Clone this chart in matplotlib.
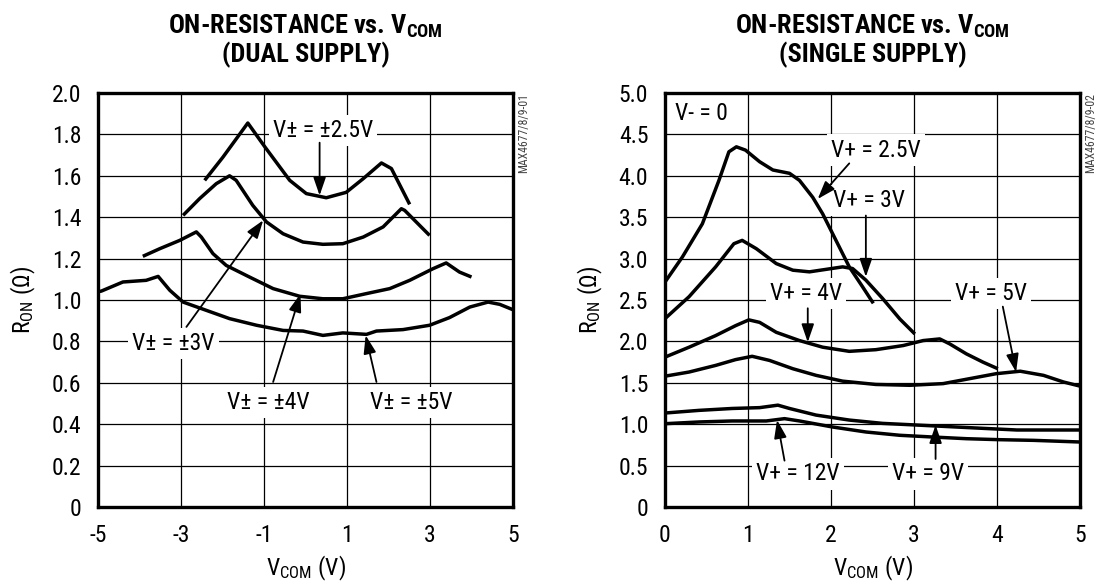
import matplotlib
matplotlib.use("Agg")
import matplotlib.pyplot as plt
from matplotlib import font_manager as fm

names = {f.name for f in fm.fontManager.ttflist}


def pick(cands, default="DejaVu Sans"):
    for c in cands:
        if c in names:
            return c
    return default


FONT = pick(["Roboto Condensed", "Archivo Narrow", "PT Sans Narrow", "Liberation Sans Narrow",
             "IBM Plex Sans Condensed"])
TFONT = pick(["Roboto Condensed", "Archivo Narrow", "Barlow Condensed", "IBM Plex Sans Condensed"])
plt.rcParams['font.family'] = [FONT, 'DejaVu Sans']
plt.rcParams['mathtext.fontset'] = 'custom'
plt.rcParams['mathtext.rm'] = FONT
plt.rcParams['mathtext.it'] = FONT
plt.rcParams['mathtext.bf'] = TFONT + ':black'

# ---------------- data: dual supply ----------------
d25_x = [-2.43, -1.99, -1.59, -1.39, -0.98, -0.38, 0.02, 0.50, 0.98, 1.39, 1.83, 2.07, 2.51]
d25_y = [1.578, 1.69, 1.80, 1.855, 1.74, 1.578, 1.514, 1.494, 1.52, 1.586, 1.662, 1.635, 1.462]

d3_x = [-2.95, -2.55, -2.15, -1.83, -1.67, -1.27, -0.94, -0.54, -0.06, 0.42, 0.90, 1.39, 1.87, 2.31, 2.39, 2.99]
d3_y = [1.409, 1.49, 1.562, 1.60, 1.578, 1.457, 1.377, 1.32, 1.28, 1.269, 1.272, 1.304, 1.353, 1.441, 1.433, 1.312]

d4_x = [-3.92, -3.51, -3.03, -2.63, -2.51, -2.23, -1.91, -1.35, -0.78, -0.14, 0.42, 0.90, 1.47, 2.03, 2.51, 3.07, 3.39, 3.71, 4.00]
d4_y = [1.211, 1.248, 1.288, 1.329, 1.304, 1.224, 1.167, 1.111, 1.055, 1.018, 1.006, 1.006, 1.031, 1.055, 1.095, 1.151, 1.179, 1.135, 1.111]

d5_x = [-5.0, -4.92, -4.40, -3.84, -3.55, -3.27, -2.95, -2.39, -1.83, -1.18, -0.54, -0.06, 0.42, 0.90, 1.47, 1.71, 2.35, 2.99, 3.47, 3.96, 4.40, 4.68, 5.0]
d5_y = [1.04, 1.043, 1.087, 1.095, 1.114, 1.047, 0.99, 0.95, 0.91, 0.878, 0.853, 0.850, 0.829, 0.841, 0.834, 0.850, 0.857, 0.878, 0.915, 0.966, 0.99, 0.979, 0.953]

dual_series = [(d25_x, d25_y), (d3_x, d3_y), (d4_x, d4_y), (d5_x, d5_y)]

# ---------------- data: single supply ----------------
s25_x = [0.0, 0.21, 0.45, 0.65, 0.77, 0.86, 0.97, 1.14, 1.30, 1.50, 1.62, 1.78, 1.90, 2.06, 2.22, 2.38, 2.51]
s25_y = [2.717, 3.02, 3.42, 3.945, 4.29, 4.35, 4.31, 4.17, 4.07, 4.03, 3.945, 3.74, 3.54, 3.22, 2.90, 2.66, 2.46]

s3_x = [0.0, 0.29, 0.61, 0.83, 0.93, 1.10, 1.34, 1.54, 1.74, 1.94, 2.14, 2.26, 2.42, 2.62, 2.83, 3.01]
s3_y = [2.275, 2.54, 2.90, 3.18, 3.22, 3.12, 2.94, 2.86, 2.84, 2.87, 2.90, 2.88, 2.74, 2.52, 2.27, 2.09]

s4_x = [0.0, 0.29, 0.61, 0.85, 1.01, 1.14, 1.34, 1.62, 1.90, 2.22, 2.54, 2.87, 3.11, 3.31, 3.43, 3.63, 3.83, 4.01]
s4_y = [1.81, 1.93, 2.07, 2.19, 2.26, 2.23, 2.11, 2.01, 1.93, 1.88, 1.90, 1.95, 2.01, 2.03, 1.97, 1.85, 1.75, 1.67]

s5_x = [0.0, 0.29, 0.61, 0.85, 1.05, 1.26, 1.54, 1.82, 2.14, 2.54, 2.95, 3.35, 3.67, 3.99, 4.28, 4.56, 4.80, 5.0]
s5_y = [1.58, 1.63, 1.71, 1.78, 1.82, 1.77, 1.67, 1.59, 1.52, 1.48, 1.47, 1.49, 1.55, 1.61, 1.64, 1.59, 1.51, 1.46]

s9_x = [0.0, 0.41, 0.81, 1.14, 1.36, 1.50, 1.82, 2.22, 2.62, 3.03, 3.43, 3.83, 4.24, 5.0]
s9_y = [1.135, 1.167, 1.19, 1.20, 1.23, 1.19, 1.11, 1.05, 1.01, 0.99, 0.97, 0.95, 0.93, 0.93]

s12_x = [0.0, 0.41, 0.81, 1.22, 1.44, 1.62, 2.02, 2.42, 2.83, 3.23, 3.63, 4.03, 4.44, 5.0]
s12_y = [1.006, 1.027, 1.039, 1.039, 1.067, 1.039, 0.966, 0.906, 0.866, 0.845, 0.825, 0.813, 0.805, 0.785]

single_series = [(s25_x, s25_y), (s3_x, s3_y), (s4_x, s4_y), (s5_x, s5_y), (s9_x, s9_y), (s12_x, s12_y)]

dual_xticks = [-5, -3, -1, 1, 3, 5]
dual_yticks = [0, 0.2, 0.4, 0.6, 0.8, 1.0, 1.2, 1.4, 1.6, 1.8, 2.0]
single_xticks = [0, 1, 2, 3, 4, 5]
single_yticks = [0, 0.5, 1.0, 1.5, 2.0, 2.5, 3.0, 3.5, 4.0, 4.5, 5.0]

# labels: (text, text_xy, arrow_from, arrow_to)
dual_labels = [
    ("V± = ±2.5V", (0.42, 1.82), (0.34, 1.76), (0.34, 1.505)),
    ("V± = ±3V", (-3.19, 0.79), (-2.87, 0.87), (-1.02, 1.385)),
    ("V± = ±4V", (-0.90, 0.505), (-0.78, 0.604), (-0.12, 1.03)),
    ("V± = ±5V", (2.55, 0.505), (1.71, 0.604), (1.45, 0.829)),
]
single_labels = [
    ("V+ = 2.5V", (2.54, 4.31), (2.22, 4.15), (1.84, 3.72)),
    ("V+ = 3V", (2.46, 3.70), (2.42, 3.52), (2.42, 2.78)),
    ("V+ = 4V", (1.70, 2.58), (1.72, 2.40), (1.72, 1.99)),
    ("V+ = 5V", (3.93, 2.58), (4.07, 2.42), (4.23, 1.63)),
    ("V+ = 12V", (1.60, 0.40), (1.44, 0.56), (1.35, 1.05)),
    ("V+ = 9V", (3.17, 0.40), (3.26, 0.58), (3.26, 0.99)),
]

FS = 17

fig = plt.figure(figsize=(10.95, 5.81), dpi=100)
ax1 = fig.add_axes([98 / 1095, 74 / 581, 415 / 1095, 414 / 581])
ax2 = fig.add_axes([665 / 1095, 74 / 581, 415 / 1095, 414 / 581])


def style(ax, xlim, ylim, xt, yt, title, code):
    ax.set_xlim(*xlim)
    ax.set_ylim(*ylim)
    ax.set_xticks(xt)
    ax.set_xticklabels([str(v) for v in xt])
    ax.set_yticks(yt)
    ax.set_yticklabels(["0"] + ["{:.1f}".format(v) for v in yt[1:]])
    ax.grid(True, color='black', lw=0.9)
    ax.set_axisbelow(True)
    ax.tick_params(length=0, labelsize=FS, pad=12)
    for s in ax.spines.values():
        s.set_linewidth(2.4)
    ax.set_xlabel(r'V$_{\mathrm{COM}}$ (V)', fontsize=FS, labelpad=5)
    ax.set_ylabel(r'R$_{\mathrm{ON}}$ ($\Omega$)', fontsize=FS, labelpad=10)
    ax.set_title(title, fontsize=19, fontweight='black', family=[TFONT, 'DejaVu Sans'],
                 pad=22, linespacing=1.1)
    ax.text(1.025, 1.0, code, transform=ax.transAxes, rotation=90, ha='center', va='top',
            fontsize=8.5, color='#444444')


style(ax1, (-5, 5), (0, 2.0), dual_xticks, dual_yticks,
      r'ON-RESISTANCE vs. $\mathbf{V_{COM}}$' + '\n(DUAL SUPPLY)', "MAX4677/8/9-01")
style(ax2, (0, 5), (0, 5.0), single_xticks, single_yticks,
      r'ON-RESISTANCE vs. $\mathbf{V_{COM}}$' + '\n(SINGLE SUPPLY)', "MAX4677/8/9-02")

for x, y in dual_series:
    ax1.plot(x, y, color='black', lw=2.5, solid_capstyle='butt', solid_joinstyle='round', zorder=3)
for x, y in single_series:
    ax2.plot(x, y, color='black', lw=2.5, solid_capstyle='butt', solid_joinstyle='round', zorder=3)


def label(ax, items):
    for txt, pos, a0, a1 in items:
        ax.text(pos[0], pos[1], txt, fontsize=FS, ha='center', va='center', zorder=4,
                bbox=dict(fc='white', ec='none', pad=3))
        ax.annotate('', xy=a1, xytext=a0, zorder=5,
                    arrowprops=dict(arrowstyle='-|>,head_length=1.1,head_width=0.38',
                                    color='black', lw=1.3, shrinkA=0, shrinkB=0))


label(ax1, dual_labels)
label(ax2, single_labels)
ax2.text(0.12, 4.75, "V- = 0", fontsize=FS, ha='left', va='center', zorder=4,
         bbox=dict(fc='white', ec='none', pad=1))

fig.savefig("out.png", dpi=100)
